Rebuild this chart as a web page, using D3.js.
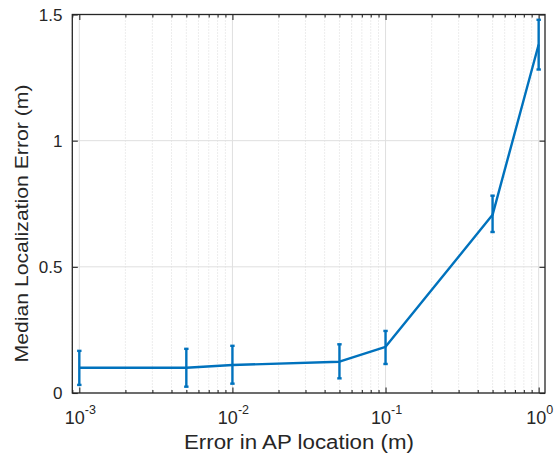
<!DOCTYPE html>
<html>
<head>
<meta charset="utf-8">
<script src="https://cdn.jsdelivr.net/npm/d3@7"></script>
<style>
  html, body { margin: 0; padding: 0; background: #fff; }
  svg { display: block; }
  text { font-family: "Liberation Sans", Arial, Helvetica, sans-serif; fill: #262626; }
</style>
</head>
<body>
<svg id="chart" width="555" height="457"></svg>
<script>
// AP location error (m) against median localization error (m)
const apError = [0.001, 0.005, 0.01, 0.05, 0.1, 0.5, 1];
const medianError = [0.100, 0.100, 0.111, 0.124, 0.183, 0.706, 1.381];
const lowerBound = [0.032, 0.025, 0.037, 0.058, 0.115, 0.638, 1.282];
const upperBound = [0.167, 0.175, 0.187, 0.193, 0.246, 0.782, 1.479];

const xMajorTicks = [0.001, 0.01, 0.1, 1];
const xTickExponents = ["-3", "-2", "-1", "0"];
const yTicks = [0, 0.5, 1, 1.5];
const yTickLabels = ["0", "0.5", "1", "1.5"];

const xLabel = "Error in AP location (m)";
const yLabel = "Median Localization Error (m)";

const svg = d3.select("#chart");
const box = { left: 72.3, right: 545, top: 14.5, bottom: 393 };

const x = d3.scaleLog().domain([0.0009, 1.1]).range([box.left, box.right]);
const y = d3.scaleLinear().domain([0, 1.5]).range([box.bottom, box.top]);

// minor decade ticks 2..9 × 10^k inside the x range
const xMinorTicks = [];
[-4, -3, -2, -1, 0].forEach(k => {
  for (let m = 2; m <= 9; m++) {
    const v = m * Math.pow(10, k);
    if (v > x.domain()[0] && v < x.domain()[1]) xMinorTicks.push(v);
  }
});

const line = "#0072BD";
const axisColor = "#262626";

// grid
const grid = svg.append("g");
grid.selectAll(".gxm").data(xMinorTicks).join("line")
  .attr("x1", d => x(d)).attr("x2", d => x(d))
  .attr("y1", box.top).attr("y2", box.bottom)
  .attr("stroke", "#d2d2d2").attr("stroke-width", 0.8)
  .attr("stroke-dasharray", "1,2");
grid.selectAll(".gx").data(xMajorTicks).join("line")
  .attr("x1", d => x(d)).attr("x2", d => x(d))
  .attr("y1", box.top).attr("y2", box.bottom)
  .attr("stroke", "#dfdfdf").attr("stroke-width", 1);
grid.selectAll(".gy").data(yTicks).join("line")
  .attr("x1", box.left).attr("x2", box.right)
  .attr("y1", d => y(d)).attr("y2", d => y(d))
  .attr("stroke", "#dfdfdf").attr("stroke-width", 1);

// tick marks (inward) on all four sides
function tickMarks(axisGen, transform) {
  const g = svg.append("g").attr("transform", transform).call(axisGen);
  g.select(".domain").remove();
  g.selectAll(".tick line").attr("stroke", axisColor).attr("stroke-width", 1.1);
  g.selectAll(".tick text").remove();
}
tickMarks(d3.axisBottom(x).tickValues(xMajorTicks).tickSize(-5.5).tickFormat(""), `translate(0,${box.bottom})`);
tickMarks(d3.axisBottom(x).tickValues(xMinorTicks).tickSize(-3).tickFormat(""), `translate(0,${box.bottom})`);
tickMarks(d3.axisTop(x).tickValues(xMajorTicks).tickSize(-5.5).tickFormat(""), `translate(0,${box.top})`);
tickMarks(d3.axisTop(x).tickValues(xMinorTicks).tickSize(-3).tickFormat(""), `translate(0,${box.top})`);
tickMarks(d3.axisLeft(y).tickValues(yTicks).tickSize(-5.5).tickFormat(""), `translate(${box.left},0)`);
tickMarks(d3.axisRight(y).tickValues(yTicks).tickSize(-5.5).tickFormat(""), `translate(${box.right},0)`);

// axes box
svg.append("rect")
  .attr("x", box.left).attr("y", box.top)
  .attr("width", box.right - box.left).attr("height", box.bottom - box.top)
  .attr("fill", "none").attr("stroke", axisColor).attr("stroke-width", 1.3);

// x tick labels as powers of ten
const xt = svg.append("g").selectAll("text").data(xMajorTicks).join("text")
  .attr("x", d => x(d) + 1).attr("y", 423.5)
  .attr("text-anchor", "middle")
  .style("font-size", "18px");
xt.append("tspan").text("10");
xt.append("tspan").attr("dy", -9.5).style("font-size", "12.5px")
  .text((d, i) => xTickExponents[i]);

// y tick labels
svg.append("g").selectAll("text").data(yTicks).join("text")
  .attr("x", 62.5).attr("y", d => y(d))
  .attr("dy", "0.36em")
  .attr("text-anchor", "end")
  .style("font-size", "17px")
  .text((d, i) => yTickLabels[i]);

// axis titles
svg.append("text")
  .attr("x", 299).attr("y", 448.5)
  .attr("text-anchor", "middle")
  .attr("textLength", 230).attr("lengthAdjust", "spacingAndGlyphs")
  .style("font-size", "19.5px")
  .text(xLabel);
svg.append("text")
  .attr("transform", "translate(27.5,223.5) rotate(-90)")
  .attr("text-anchor", "middle")
  .attr("textLength", 278).attr("lengthAdjust", "spacingAndGlyphs")
  .style("font-size", "19px")
  .text(yLabel);

// median line
const pts = apError.map((v, i) => [v, medianError[i]]);
svg.append("path")
  .datum(pts)
  .attr("d", d3.line().x(d => x(d[0])).y(d => y(d[1])))
  .attr("fill", "none").attr("stroke", line).attr("stroke-width", 2.4)
  .attr("stroke-linejoin", "round");

// error bars with caps
const eb = svg.append("g").selectAll("g").data(apError).join("g");
eb.append("line")
  .attr("x1", d => x(d)).attr("x2", d => x(d))
  .attr("y1", (d, i) => y(lowerBound[i])).attr("y2", (d, i) => y(upperBound[i]))
  .attr("stroke", line).attr("stroke-width", 2.4);
eb.append("line")
  .attr("x1", d => x(d) - 2.2).attr("x2", d => x(d) + 2.2)
  .attr("y1", (d, i) => y(lowerBound[i])).attr("y2", (d, i) => y(lowerBound[i]))
  .attr("stroke", line).attr("stroke-width", 2.4);
eb.append("line")
  .attr("x1", d => x(d) - 2.2).attr("x2", d => x(d) + 2.2)
  .attr("y1", (d, i) => y(upperBound[i])).attr("y2", (d, i) => y(upperBound[i]))
  .attr("stroke", line).attr("stroke-width", 2.4);
</script>
</body>
</html>
